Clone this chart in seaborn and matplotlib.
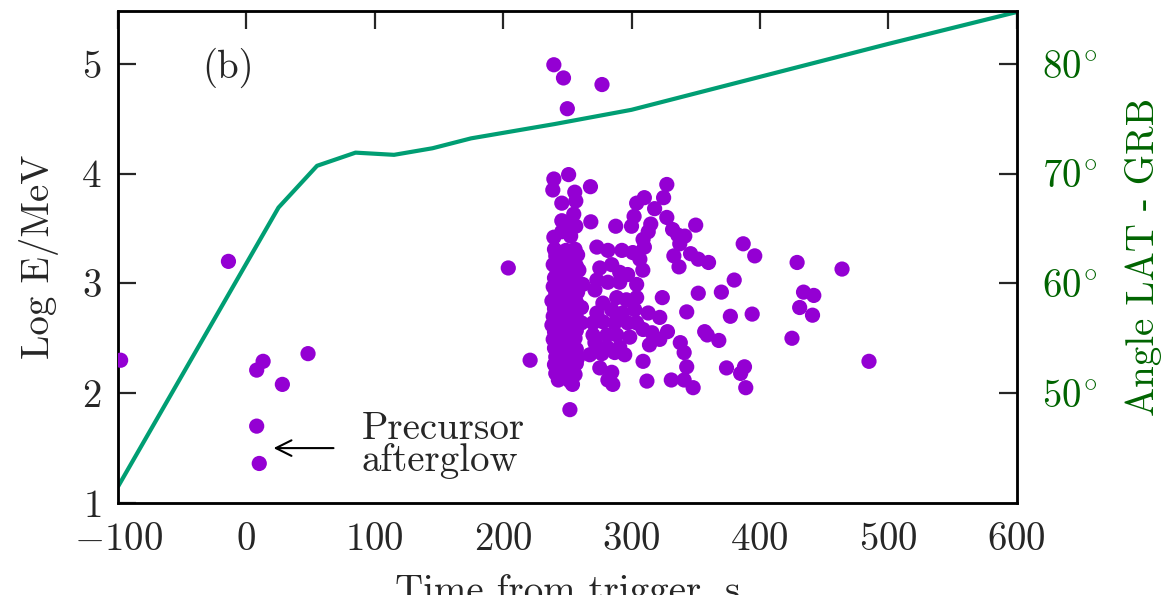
import numpy as np
import pandas as pd
import matplotlib
matplotlib.use("Agg")
import matplotlib.pyplot as plt
from matplotlib.ticker import FuncFormatter, FixedLocator
import seaborn as sns

# ---------------- data ----------------
# Angle LAT-GRB curve (right axis, degrees)
line_t = [-100, 25, 55, 85, 115, 145, 175, 240, 300, 400, 500, 600]
line_deg = [41.5, 66.9, 70.7, 71.9, 71.7, 72.3, 73.2, 74.5, 75.8, 78.8, 81.8, 84.7]

# photon events: time (s), log E/MeV
early_t = [-98, -14, 13, 8, 28, 48, 8, 10]
early_e = [2.30, 3.20, 2.29, 2.21, 2.08, 2.36, 1.70, 1.36]

top_t = [239.5, 247, 277, 250, 204, 221, 252, 485]
top_e = [4.99, 4.87, 4.81, 4.59, 3.14, 2.30, 1.85, 2.29]

right_t = [350, 387, 396, 429, 464, 352, 360, 380, 370, 352, 434, 442, 377, 394, 431,
           441, 357, 359, 368, 425, 374, 388, 385, 389, 348]
right_e = [3.53, 3.36, 3.25, 3.19, 3.13, 3.22, 3.19, 3.03, 2.92, 2.91, 2.92, 2.89, 2.70, 2.72, 2.78,
           2.71, 2.56, 2.53, 2.48, 2.50, 2.23, 2.24, 2.18, 2.05, 2.05]

mid2_t = [327.5, 325, 310, 304, 318, 327.5, 302, 300, 315, 313, 332, 336, 341.5, 309, 310,
          337.6, 333, 337, 346, 343, 324, 309, 312, 331, 341, 343, 341, 338, 328, 322,
          316, 309, 314, 313, 322]
mid2_e = [3.90, 3.78, 3.78, 3.73, 3.68, 3.60, 3.61, 3.52, 3.54, 3.47, 3.49, 3.44, 3.43, 3.40, 3.33,
          3.36, 3.25, 3.15, 3.27, 2.74, 2.87, 2.29, 2.11, 2.12, 2.12, 2.24, 2.37, 2.46, 2.56, 2.49,
          2.55, 2.58, 2.44, 2.73, 2.69]

mid_t = [273, 281.6, 292.5, 301, 306.5, 308.8, 275.3, 284.6, 290.8, 297, 273, 281.6, 290.8, 304,
         271.5, 277.7, 288.5, 296, 304, 273, 284.6, 293, 302.5, 270, 277.7, 286.9, 297, 304,
         270, 280.8, 288.5, 298.6, 271.5, 280.8, 290.8, 267.5, 276.9, 286.9, 294.7, 275.3,
         284.6, 281.6, 285.4, 287.7, 268.3, 268]
mid_e = [3.33, 3.30, 3.30, 3.28, 3.22, 3.12, 3.14, 3.17, 3.10, 3.08, 3.03, 3.01, 3.01, 2.99,
         2.94, 2.82, 2.87, 2.85, 2.87, 2.73, 2.76, 2.73, 2.76, 2.64, 2.65, 2.64, 2.64, 2.64,
         2.53, 2.53, 2.53, 2.51, 2.46, 2.42, 2.42, 2.35, 2.36, 2.37, 2.35, 2.23,
         2.19, 2.12, 2.08, 3.52, 3.56, 3.88]

col_top_t = [239.5, 251, 238.7, 255.8, 256.6, 245.7, 255, 245.7, 251.8, 256.6, 239.5, 245.7, 252.6]
col_top_e = [3.95, 3.99, 3.85, 3.83, 3.75, 3.73, 3.63, 3.57, 3.52, 3.52, 3.42, 3.47, 3.43]

col_t = [240, 249, 256, 241, 250, 258, 239, 248, 257, 242, 251, 259, 240, 249, 256,
         239, 247, 256, 262, 241, 250, 258, 238, 248, 257, 240, 249, 256, 261,
         239, 248, 257, 238, 247, 255, 261, 240, 249, 257, 239, 248, 256,
         240, 249, 257, 241, 250, 258, 240, 248, 257, 241, 250, 256, 243, 252, 254]
col_e = [3.31, 3.30, 3.31, 3.25, 3.24, 3.26, 3.17, 3.18, 3.16, 3.11, 3.10, 3.12, 3.05, 3.04, 3.05,
         2.97, 2.98, 2.96, 2.99, 2.91, 2.90, 2.92, 2.84, 2.85, 2.83, 2.77, 2.78, 2.76, 2.78,
         2.70, 2.71, 2.69, 2.62, 2.63, 2.61, 2.64, 2.56, 2.55, 2.57, 2.49, 2.48, 2.50,
         2.41, 2.42, 2.40, 2.33, 2.34, 2.32, 2.26, 2.25, 2.27, 2.18, 2.19, 2.17, 2.12, 2.11, 2.08]

x_ticks = [-100, 0, 100, 200, 300, 400, 500, 600]
y_ticks = [1, 2, 3, 4, 5]
deg_ticks = [50, 60, 70, 80]

# ---------------- style ----------------
sns.set_style("white")
plt.rcParams.update({
    "font.family": ["cmr10", "DejaVu Serif"],
    "mathtext.fontset": "cm",
    "axes.formatter.use_mathtext": True,
    "axes.unicode_minus": True,
    "font.size": 28,
})

PURPLE = "#9400D3"
TEAL = "#009E73"
DGREEN = "#006400"
FS = 28

fig = plt.figure(figsize=(11.7, 5.95), dpi=100)
ax = fig.add_axes([0.1009, 0.1546, 0.768, 0.8270])

events = pd.DataFrame({
    "t": early_t + top_t + right_t + mid2_t + mid_t + col_top_t + col_t,
    "logE": early_e + top_e + right_e + mid2_e + mid_e + col_top_e + col_e,
})
sns.scatterplot(data=events, x="t", y="logE", ax=ax, color=PURPLE, s=120,
                edgecolor="none", linewidth=0, zorder=3)

ax.set_xlim(-100, 600)
ax.set_ylim(1, 5.48)
ax.xaxis.set_major_locator(FixedLocator(x_ticks))
ax.yaxis.set_major_locator(FixedLocator(y_ticks))
ax.xaxis.set_major_formatter(FuncFormatter(lambda v, p: r"$%d$" % v if v >= 0 else r"$-%d$" % (-v)))
ax.yaxis.set_major_formatter(FuncFormatter(lambda v, p: r"$%d$" % v))
ax.tick_params(axis="both", which="major", direction="in", length=13, width=1.6,
               labelsize=FS, top=True, right=False)
ax.tick_params(axis="x", pad=14)
ax.tick_params(axis="y", pad=12)
for sp in ax.spines.values():
    sp.set_linewidth(1.8)
    sp.set_color("black")

ax.set_xlabel("Time from trigger, s", fontsize=FS, labelpad=11)
ax.set_ylabel("Log E/MeV", fontsize=FS, labelpad=16)

ax.text(0.122, 0.884, "(b)", transform=ax.transAxes, fontsize=FS,
        ha="center", va="center")
ax.annotate("", xy=(19, 1.50), xytext=(70, 1.50),
            arrowprops=dict(arrowstyle="->", color="black", lw=1.5,
                            mutation_scale=28))
ax.text(90, 1.53, "Precursor\nafterglow", fontsize=FS, ha="left", va="center",
        linespacing=0.85)

# twin axis for the angle
ax2 = ax.twinx()
curve = pd.DataFrame({"t": line_t, "deg": line_deg})
sns.lineplot(data=curve, x="t", y="deg", ax=ax2, color=TEAL, lw=3, zorder=2)
ax2.set_ylim(40, 84.8)
ax2.set_xlim(-100, 600)
ax2.yaxis.set_major_locator(FixedLocator(deg_ticks))
ax2.yaxis.set_major_formatter(FuncFormatter(lambda v, p: r"$%d^{\!\circ}$" % v))
ax2.tick_params(axis="y", direction="in", length=13, width=1.6, labelsize=FS,
                pad=18, labelcolor=DGREEN, right=True)
ax2.set_ylabel("Angle LAT - GRB", fontsize=FS, color=DGREEN, labelpad=20)
ax2.set_xlabel("")
for sp in ax2.spines.values():
    sp.set_linewidth(1.8)
ax.set_zorder(ax2.get_zorder() + 1)
ax.patch.set_visible(False)

fig.savefig("out.png", dpi=100)
